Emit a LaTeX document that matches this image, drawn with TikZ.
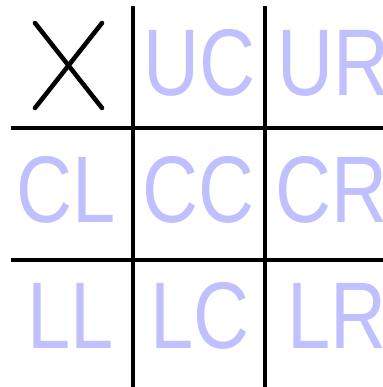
\documentclass[tikz,border=0pt]{standalone}
\usepackage{fontspec}
\setmainfont{Liberation Sans}
\definecolor{cellblue}{RGB}{192,192,255}
\newcommand{\celltext}[1]{\scalebox{0.82}[1]{#1}}
\tikzset{
  cell/.style={text=cellblue,inner sep=0pt,font=\fontsize{71}{71}\selectfont},
  gridline/.style={line width=2.3pt},
}
\begin{document}
\begin{tikzpicture}[x=0.75pt,y=0.75pt,yscale=-1,xscale=1]
\useasboundingbox (0,0) rectangle (383,387);

% grid
\draw[gridline] (133,6) -- (133,387);
\draw[gridline] (265,6) -- (265,387);
\draw[gridline] (11,128) -- (383,128);
\draw[gridline] (11,260) -- (383,260);

% the X
\draw[line width=3.4pt,line cap=round] (35,23) -- (102,108);
\draw[line width=3.4pt,line cap=round] (102,23) -- (35,108);

\node[cell] (uc) at (200,63) {\celltext{UC}};
\node[cell] (ur) at (334,63) {\celltext{UR}};
\node[cell] (cl) at (66,190) {\celltext{CL}};
\node[cell] (cc) at (199,190) {\celltext{CC}};
\node[cell] (cr) at (332,190) {\celltext{CR}};
\node[cell] (ll) at (71,316) {\celltext{LL}};
\node[cell] (lc) at (200,316) {\celltext{LC}};
\node[cell] (lr) at (337,316) {\celltext{LR}};

\end{tikzpicture}
\end{document}
